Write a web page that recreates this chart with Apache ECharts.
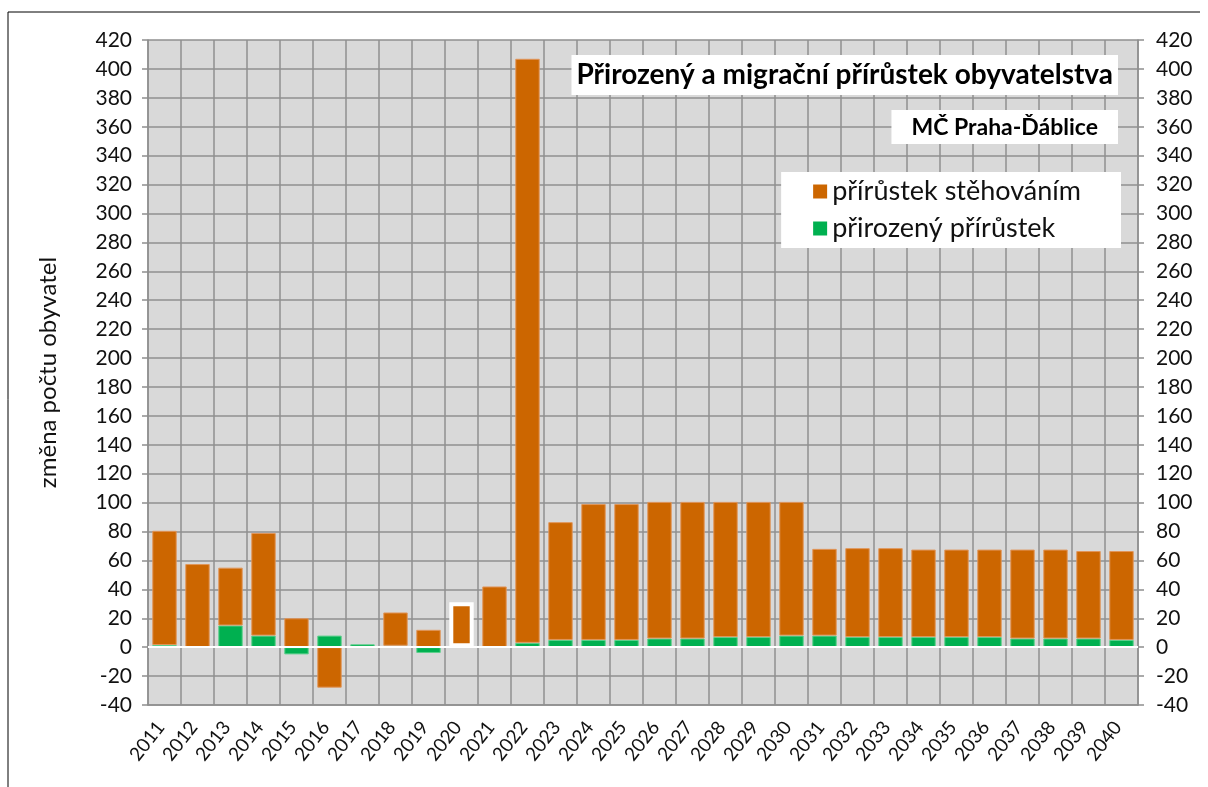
<!DOCTYPE html>
<html>
<head>
<meta charset="utf-8">
<script src="https://cdn.jsdelivr.net/npm/echarts@6/dist/echarts.min.js"></script>
<style>
html,body{margin:0;padding:0;background:#fff;}
#main{width:1208px;height:787px;}
</style>
</head>
<body>
<div id="main"></div>
<script>
// roky
var years = ['2011','2012','2013','2014','2015','2016','2017','2018','2019','2020',
	'2021','2022','2023','2024','2025','2026','2027','2028','2029','2030',
	'2031','2032','2033','2034','2035','2036','2037','2038','2039','2040'];
// přirozený přírůstek
var natural = [1.5, 0, 15, 8, -5, 8, 2, 1, -4, 0,
	0, 3, 5, 5, 5, 6, 6, 7, 7, 8,
	8, 7, 7, 7, 7, 7, 6, 6, 6, 5];
// přírůstek stěhováním
var migration = [79, 57.5, 40, 71, 20, -28, 0, 23, 12, 31,
	42, 404, 81.5, 94, 94, 94.5, 94.5, 93.5, 93.5, 92.5,
	60, 61.5, 61.5, 60.5, 60.5, 60.5, 61.5, 61.5, 60.5, 61.5];
var yMin = -40, yMax = 420, yStep = 20;
var highlightYear = '2020';

var font = 'Lato, Carlito, Calibri, sans-serif';
var gridColor = '#8f8f8f';

var myChart = echarts.init(document.getElementById('main'));

// nuly nekreslit (jinak je vidět okraj sloupce)
var natData = [], migData = [];
for (var i = 0; i < years.length; i++) {
	natData.push(natural[i] == 0 ? '-' : natural[i]);
	if (migration[i] == 0) {
		migData.push('-');
	} else if (years[i] == highlightYear) {
		migData.push({value: migration[i], itemStyle: {borderColor: '#ffffff', borderWidth: 4}});
	} else {
		migData.push(migration[i]);
	}
}

function valueAxis(pos, split) {
	return {
		type: 'value',
		position: pos,
		min: yMin,
		max: yMax,
		interval: yStep,
		axisLine: {show: true, lineStyle: {color: gridColor, width: 1.5}},
		axisTick: {show: true, length: 6, lineStyle: {color: gridColor, width: 1.5}},
		axisLabel: {margin: 18, color: '#111', fontSize: 21, fontFamily: font},
		splitLine: {show: split, lineStyle: {color: gridColor, width: 1.5}}
	};
}

var leftAxis = valueAxis('left', true);
leftAxis.axisLabel.margin = 16;
leftAxis.name = 'změna počtu obyvatel';
leftAxis.nameLocation = 'middle';
leftAxis.nameGap = 88;
leftAxis.nameTextStyle = {color: '#111', fontSize: 24, fontFamily: font};

var option = {
	animation: false,
	backgroundColor: '#ffffff',
	textStyle: {fontFamily: font},
	title: [{
		text: 'Přirozený a migrační přírůstek obyvatelstva',
		right: 90,
		top: 55,
		backgroundColor: '#ffffff',
		padding: [6, 5, 6, 5],
		textStyle: {fontSize: 28, fontWeight: 'bold', color: '#000', fontFamily: font}
	}, {
		text: 'MČ Praha-Ďáblice',
		right: 90,
		top: 110,
		backgroundColor: '#ffffff',
		padding: [6, 20, 5, 20],
		textStyle: {fontSize: 23, fontWeight: 'bold', color: '#000', fontFamily: font}
	}],
	legend: {
		orient: 'vertical',
		right: 87,
		top: 172,
		backgroundColor: '#ffffff',
		padding: [5, 40, 5, 32],
		itemGap: 8,
		itemWidth: 14,
		itemHeight: 14,
		icon: 'rect',
		data: ['přírůstek stěhováním', 'přirozený přírůstek'],
		itemStyle: {borderWidth: 0},
		textStyle: {fontSize: 27, color: '#111', fontFamily: font, lineHeight: 29}
	},
	grid: {
		left: 148,
		right: 70,
		top: 40,
		bottom: 82,
		show: true,
		backgroundColor: '#d9d9d9',
		borderWidth: 0
	},
	xAxis: {
		type: 'category',
		data: years,
		axisLine: {onZero: false, lineStyle: {color: gridColor, width: 1.5}},
		axisTick: {show: false},
		axisLabel: {rotate: 52, margin: 14, padding: [0, 6, 0, 0], color: '#111', fontSize: 19, fontFamily: font, interval: 0},
		splitLine: {show: true, interval: 0, lineStyle: {color: gridColor, width: 1.5}}
	},
	yAxis: [leftAxis, valueAxis('right', false)],
	graphic: [{
		type: 'line',
		shape: {x1: 8, y1: 12, x2: 1200, y2: 12},
		style: {stroke: '#000', lineWidth: 1}
	}, {
		type: 'line',
		shape: {x1: 8, y1: 12, x2: 8, y2: 787},
		style: {stroke: '#000', lineWidth: 1}
	}],
	series: [{
		name: 'přirozený přírůstek',
		type: 'bar',
		stack: 'celkem',
		barWidth: '74%',
		data: natData,
		itemStyle: {color: '#00b050', borderColor: '#5ccf8c', borderWidth: 1},
		markLine: {
			silent: true,
			symbol: 'none',
			label: {show: false},
			lineStyle: {color: '#ffffff', width: 2, type: 'solid'},
			data: [{yAxis: 0}]
		}
	}, {
		name: 'přírůstek stěhováním',
		type: 'bar',
		stack: 'celkem',
		barWidth: '74%',
		data: migData,
		itemStyle: {color: '#cc6600', borderColor: '#e0955a', borderWidth: 1}
	}]
};
myChart.setOption(option);
</script>
</body>
</html>
